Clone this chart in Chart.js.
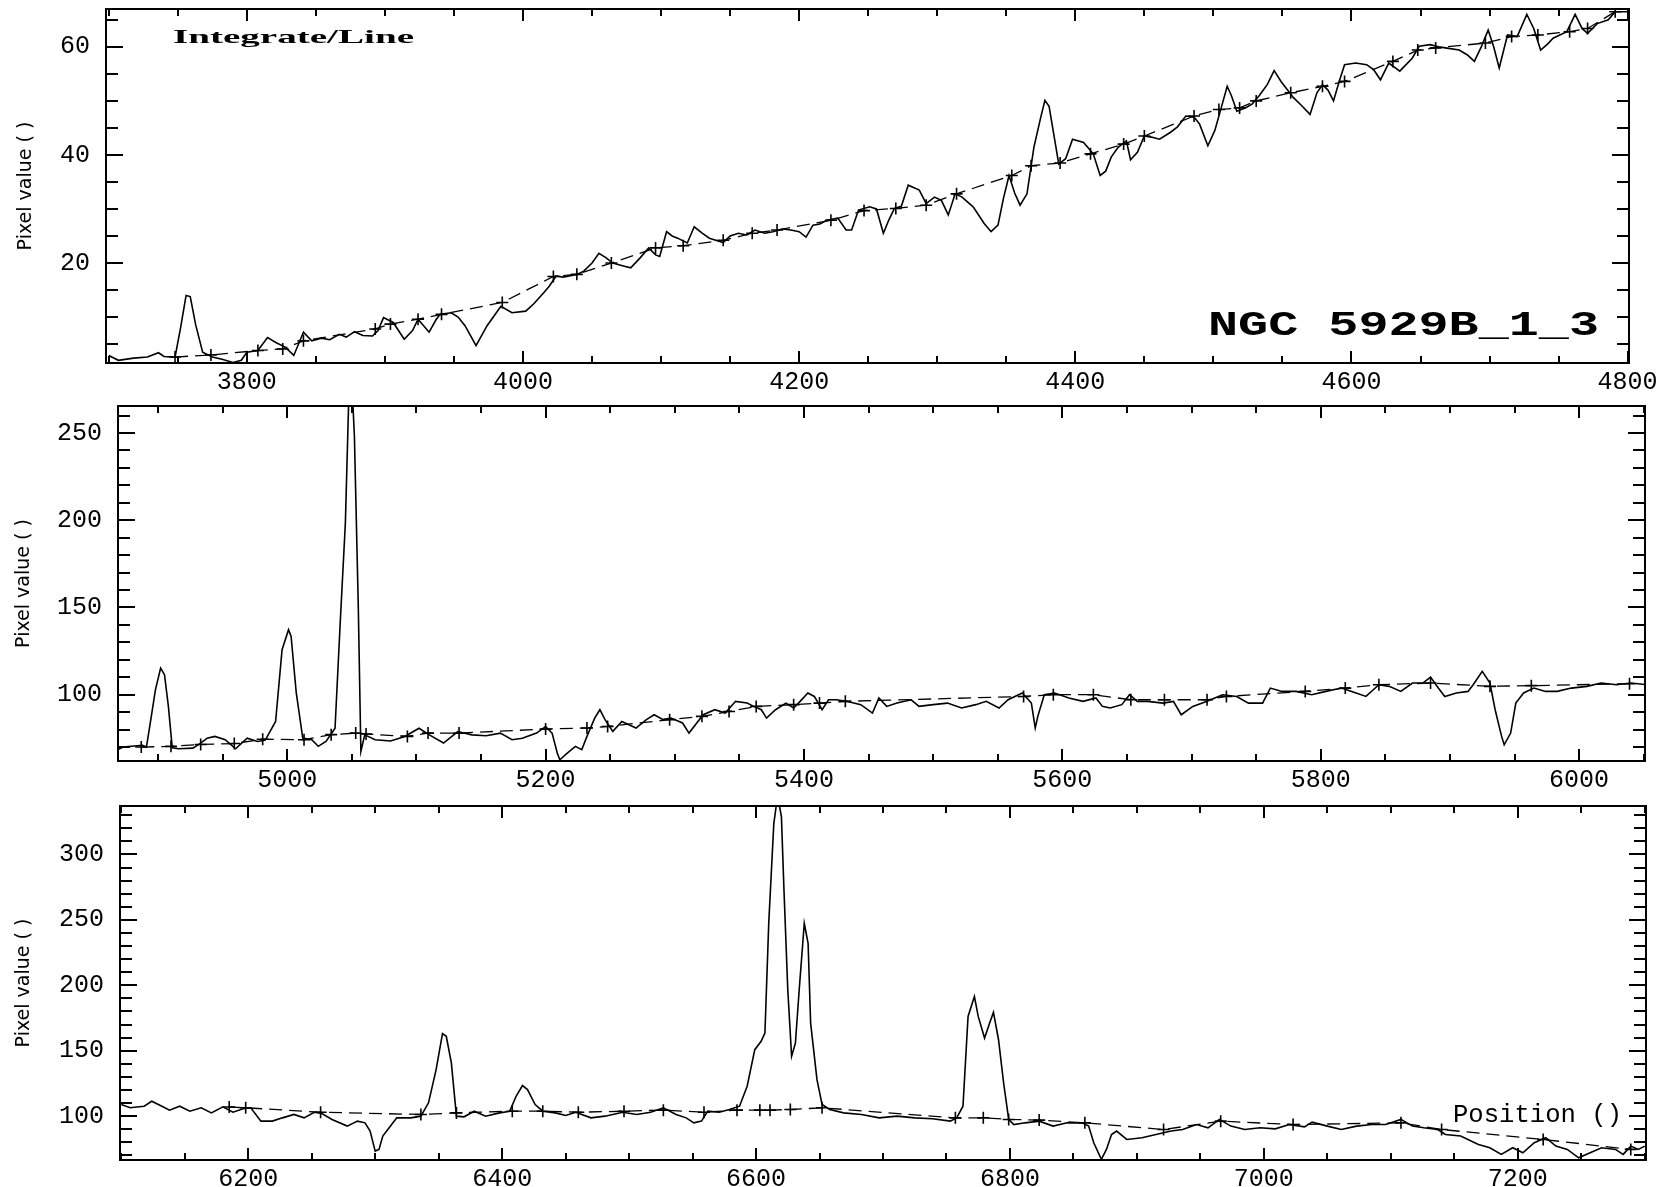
<!DOCTYPE html>
<html lang="en">
<head>
  <meta charset="UTF-8">
  <title>NGC 5929B_1_3 - Integrate/Line</title>
  <script src="https://cdn.jsdelivr.net/npm/chart.js"></script>
  <style>
    body { margin: 0; background: #fff; }
    canvas { position: absolute; left: 0; }
  </style>
</head>
<body>
  <canvas id="p1" width="1671" height="395" style="top:0px"></canvas>
  <canvas id="p2" width="1671" height="395" style="top:395px"></canvas>
  <canvas id="p3" width="1671" height="397" style="top:790px"></canvas>
  <script>
    // panel 1 : 3700 - 4800
    const wl1 = [3700,3707,3718,3728,3736,3740,3748,3752,3756,3759,3763,3768,3775,3782,3790,3796,3800,3808,3815,3821,3828,3834,3841,3847,3854,3860,3867,3872,3878,3884,3891,3895,3899,3906,3914,3920,3924,3932,3937,3940,3948,3953,3958,3966,3974,3984,3992,4002,4008,4015,4019,4024,4029,4039,4044,4050,4055,4060,4065,4072,4078,4085,4091,4096,4099,4104,4108,4112,4119,4124,4130,4135,4145,4150,4156,4162,4168,4175,4181,4188,4194,4200,4205,4210,4215,4220,4228,4234,4238,4243,4251,4256,4261,4265,4269,4274,4279,4287,4292,4298,4303,4308,4313,4318,4326,4334,4339,4344,4348,4352,4356,4360,4365,4370,4375,4378,4381,4386,4388,4393,4398,4406,4413,4418,4422,4426,4431,4437,4440,4445,4450,4455,4461,4469,4474,4480,4486,4490,4496,4501,4505,4510,4513,4517,4523,4528,4533,4539,4544,4549,4558,4564,4570,4575,4579,4583,4587,4591,4595,4603,4611,4616,4621,4627,4635,4644,4649,4657,4663,4668,4678,4684,4689,4694,4699,4703,4707,4713,4720,4727,4732,4737,4742,4746,4756,4762,4767,4771,4778,4786,4791,4800];
    const flux1 = [2.9,2.0,2.4,2.6,3.4,2.7,2.6,8.0,14.0,13.8,8.5,3.5,2.6,2.2,1.6,2.0,3.5,3.8,6.2,5.3,4.4,2.9,7.2,5.6,6.1,5.8,6.8,6.3,7.3,6.6,6.5,7.5,9.9,9.0,5.9,7.5,9.6,7.2,9.5,10.5,10.8,10.0,8.4,4.7,8.4,12.0,10.8,11.1,12.5,14.5,15.7,17.6,17.4,17.9,18.5,20.0,21.8,21.0,20.0,19.5,19.1,21.0,22.8,21.5,21.2,25.8,25.0,24.6,23.7,26.7,25.5,24.6,23.8,25.0,25.5,25.2,26.1,25.5,25.8,26.3,26.1,25.8,24.8,27.0,27.2,27.9,28.3,26.1,26.1,29.8,30.4,30.0,25.5,28.0,30.1,30.5,34.4,33.5,31.0,32.2,31.6,28.9,32.8,32.2,30.4,27.3,25.8,27.0,32.0,36.2,33.0,30.7,32.8,41.4,47.0,50.1,49.0,41.4,38.3,39.3,42.9,42.3,40.2,36.2,37.0,39.6,41.4,42.6,39.1,40.5,43.5,43.3,42.9,44.2,45.2,47.2,47.0,45.7,41.7,44.5,48.1,52.7,51.0,48.1,48.7,49.4,50.9,53.0,55.6,53.6,50.6,49.1,47.5,51.5,53.0,52.0,50.0,53.5,56.7,57.0,56.7,55.8,53.9,57.0,55.5,57.9,60.1,60.4,60.0,59.8,59.4,58.5,57.3,60.0,63.1,60.0,56.1,62.2,61.9,66.0,63.4,59.4,60.5,61.6,62.8,66.0,63.4,62.5,64.3,65.0,66.5,66.5];
    const contWl1 = [3748,3774,3808,3826,3841,3893,3904,3924,3941,3985,4022,4039,4064,4096,4116,4145,4166,4184,4223,4247,4270,4292,4314,4354,4368,4389,4411,4435,4450,4486,4504,4519,4531,4556,4579,4595,4630,4648,4661,4697,4716,4735,4758,4771,4791];
    const cont1 = [2.6,3.0,3.8,4.1,5.6,7.8,8.7,9.6,10.5,12.7,17.5,17.9,20.0,22.8,23.2,24.2,25.5,26.1,27.9,29.7,30.1,30.7,32.8,36.2,38.0,38.5,40.2,42.0,43.5,47.2,48.4,48.7,50.0,51.5,52.7,53.6,57.3,59.4,59.8,60.7,61.9,62.2,62.8,63.4,66.5];
    const xTicks1 = [3800, 4000, 4200, 4400, 4600, 4800];
    const yTicks1 = [20, 40, 60];

    // panel 2 : 4870 - 6050
    const wl2 = [4869,4873,4888,4891,4894,4898,4902,4905,4908,4911,4916,4927,4933,4938,4944,4952,4960,4969,4977,4983,4991,4996,5001,5003,5007,5012,5019,5024,5030,5037,5041,5045,5048,5050,5052,5055,5057,5060,5068,5080,5091,5102,5110,5121,5132,5143,5154,5165,5174,5182,5193,5200,5205,5209,5211,5217,5223,5228,5232,5238,5242,5246,5252,5259,5270,5278,5284,5291,5297,5306,5311,5317,5322,5331,5339,5347,5356,5361,5367,5371,5378,5386,5392,5397,5403,5408,5414,5419,5425,5433,5444,5453,5458,5464,5472,5483,5489,5500,5511,5522,5533,5541,5551,5558,5569,5576,5579,5581,5586,5594,5605,5616,5626,5631,5637,5646,5652,5658,5666,5678,5686,5692,5701,5712,5724,5735,5744,5755,5761,5770,5781,5793,5804,5816,5824,5835,5845,5853,5862,5871,5879,5885,5891,5896,5905,5914,5918,5925,5931,5935,5940,5942,5947,5951,5957,5965,5974,5983,5994,6006,6017,6029,6040,6053];
    const flux2 = [68.5,70.0,71.0,70.0,83.8,102.9,115.3,111.5,93.3,69.6,69.0,69.4,72.2,75.1,76.1,74.2,69.0,75.1,73.2,74.0,84.7,125.8,137.3,133.4,101.0,75.1,74.2,70.4,73.2,80.8,141.1,198.4,280,280,248,150.6,67.5,77.0,74.2,73.5,76.1,80.8,77.0,72.3,78.9,77.0,76.5,78.0,74.2,75.0,78.0,81.8,78.0,66.6,62.7,66.6,70.4,68.5,76.1,86.6,91.4,85.7,79.0,84.7,80.9,85.7,88.5,85.7,86.6,83.8,78.0,83.8,88.5,91.4,89.5,96.2,95.2,93.3,91.4,86.6,91.4,95.2,92.4,96.2,101.0,99.0,91.4,97.1,97.1,96.2,94.3,89.5,98.1,93.3,95.2,97.1,93.3,94.3,95.2,92.4,94.3,96.2,92.4,97.1,101.0,95.2,80.9,87.6,100.0,101.0,98.1,96.2,98.1,93.3,92.4,94.3,100.0,96.2,96.2,95.2,96.2,88.5,93.3,96.2,100.0,99.0,95.2,95.2,103.8,101.9,101.9,100.0,101.9,103.8,101.9,99.0,105.7,104.8,101.9,106.7,106.7,110.1,103.8,99.0,101.0,101.9,105.7,113.4,106.7,91.4,76.1,71.3,78.0,95.2,101.0,103.8,101.9,101.9,103.8,104.8,106.7,105.7,106.7,105.7];
    const contWl2 = [4887,4910,4933,4959,4981,5013,5034,5053,5061,5093,5109,5133,5200,5232,5248,5296,5321,5342,5363,5392,5412,5432,5570,5593,5624,5653,5679,5712,5727,5788,5819,5845,5885,5931,5963,6039];
    const cont2 = [70.0,70.4,71.5,72.0,74.5,74.2,77.1,78.0,77.5,76.1,78.0,78.0,80.3,80.9,81.8,85.7,87.6,90.4,93.3,94.3,95.2,96.2,99.0,100.0,100.0,97.1,97.1,97.1,99.0,101.9,103.8,105.7,106.7,104.8,105.2,106.3];
    const xTicks2 = [5000, 5200, 5400, 5600, 5800, 6000];
    const yTicks2 = [100, 150, 200, 250];

    // panel 3 : 6100 - 7300
    const wl3 = [6100,6107,6118,6124,6132,6138,6146,6154,6163,6171,6180,6188,6196,6202,6210,6219,6227,6236,6244,6252,6258,6266,6278,6286,6292,6296,6300,6303,6306,6311,6317,6328,6336,6342,6348,6353,6356,6360,6364,6370,6378,6387,6398,6406,6411,6416,6420,6426,6432,6442,6450,6458,6470,6481,6495,6506,6517,6527,6537,6545,6551,6557,6562,6571,6579,6587,6593,6599,6604,6607,6610,6614,6617,6620,6622,6625,6628,6631,6634,6638,6641,6643,6648,6652,6658,6669,6683,6697,6711,6725,6739,6753,6758,6763,6767,6772,6775,6780,6784,6787,6791,6795,6799,6803,6812,6823,6834,6845,6857,6862,6866,6872,6876,6880,6884,6892,6904,6915,6927,6936,6947,6956,6965,6974,6985,6997,7009,7020,7032,7038,7050,7061,7073,7085,7096,7108,7117,7126,7137,7143,7155,7169,7178,7187,7196,7204,7213,7222,7230,7239,7248,7257,7266,7277,7283,7289,7295,7300];
    const flux3 = [108.9,106.4,107.6,111.4,107.6,104.6,107.6,103.8,106.4,102.5,107.1,103.0,105.6,106.4,96.2,96.2,98.7,101.3,98.7,103.0,102.0,97.5,92.4,96.2,94.9,88.6,73.3,74.6,84.8,91.1,98.7,98.7,100.0,110.2,135.6,163.0,161.0,140.7,100.0,99.5,103.8,100.0,102.5,103.8,115.2,123.4,120.3,108.9,103.8,102.5,100.5,103.0,98.7,100.0,103.0,101.3,103.0,106.4,101.3,98.7,94.9,96.2,103.8,103.0,105.1,107.6,122.9,150.8,157.2,163.5,247.4,323.6,345,328.7,272.8,196.6,145.7,155.9,196.6,247.4,232.1,171.1,127.9,108.9,105.1,102.5,101.3,98.7,100.0,98.7,98.0,96.2,98.7,107.6,176.2,191.5,176.2,159.7,171.1,179.3,158.4,125.4,97.5,93.6,94.9,96.2,92.4,94.9,94.9,92.4,79.7,67.0,74.6,86.0,88.6,82.2,83.5,86.0,88.6,89.8,93.6,91.1,97.5,92.4,89.8,91.1,90.3,93.6,91.8,95.4,92.4,89.8,92.4,93.6,93.6,97.5,92.4,91.1,89.8,86.0,84.8,78.4,75.9,70.8,75.9,72.0,79.7,83.5,77.1,74.6,68.2,72.0,75.9,74.6,70.8,77.1,74.6,77.1];
    const contWl3 = [6185,6198,6257,6336,6364,6408,6432,6460,6496,6527,6559,6585,6603,6611,6627,6652,6757,6779,6799,6823,6859,6921,6966,7023,7108,7140,7220,7289];
    const cont3 = [107.0,106.4,103.0,101.3,102.5,103.8,103.8,103.0,103.8,104.6,103.0,104.6,104.6,104.6,105.1,106.4,98.7,98.7,97.5,97.0,94.9,89.8,96.2,93.6,94.9,89.8,82.2,74.6];
    const xTicks3 = [6200, 6400, 6600, 6800, 7000, 7200];
    const yTicks3 = [100, 150, 200, 250, 300];

    const tickFont = { family: '"Liberation Mono", monospace', size: 25 };

    // boxed frame with inward major/minor ticks on all four sides
    const frameTicks = {
      id: 'frameTicks',
      afterDraw(chart, args, o) {
        const { ctx, chartArea: a } = chart;
        const xs = chart.scales.x, ys = chart.scales.y;
        ctx.save();
        ctx.strokeStyle = '#000';
        ctx.lineWidth = 2;
        ctx.strokeRect(a.left, a.top, a.right - a.left, a.bottom - a.top);
        ctx.beginPath();
        const majX = xs.ticks.map(t => t.value);
        for (let v = Math.ceil(xs.min / o.xMinor) * o.xMinor; v <= xs.max; v += o.xMinor) {
          const len = majX.includes(v) ? 12 : 7;
          const px = Math.round(xs.getPixelForValue(v));
          ctx.moveTo(px, a.bottom); ctx.lineTo(px, a.bottom - len);
          ctx.moveTo(px, a.top); ctx.lineTo(px, a.top + len);
        }
        const majY = ys.ticks.map(t => t.value);
        for (let v = Math.ceil(ys.min / o.yMinor) * o.yMinor; v <= ys.max; v += o.yMinor) {
          const len = majY.includes(v) ? 17 : 12;
          const py = Math.round(ys.getPixelForValue(v));
          ctx.moveTo(a.left, py); ctx.lineTo(a.left + len, py);
          ctx.moveTo(a.right, py); ctx.lineTo(a.right - len, py);
        }
        ctx.stroke();
        ctx.restore();
      }
    };

    // free text inside the plot (stretched to the width seen in the plot)
    const notes = {
      id: 'notes',
      afterDraw(chart, args, o) {
        const ctx = chart.ctx;
        (o.items || []).forEach(n => {
          ctx.save();
          ctx.font = n.font;
          ctx.fillStyle = '#000';
          ctx.textBaseline = 'alphabetic';
          const w = ctx.measureText(n.text).width;
          ctx.translate(n.x, n.y);
          ctx.scale(n.width / w, 1);
          ctx.fillText(n.text, 0, 0);
          ctx.restore();
        });
      }
    };

    function pts(xs, ys) {
      return xs.map((x, i) => ({ x: x, y: ys[i] }));
    }

    function panel(id, p) {
      return new Chart(document.getElementById(id), {
        type: 'scatter',
        data: {
          datasets: [
            {
              data: pts(p.wl, p.flux),
              showLine: true,
              borderColor: '#000',
              borderWidth: 1.6,
              pointRadius: 0,
              tension: 0
            },
            {
              data: pts(p.cwl, p.cont),
              showLine: true,
              borderColor: '#000',
              borderWidth: 1.3,
              borderDash: [13, 7],
              pointStyle: 'cross',
              pointRadius: 6,
              pointBorderWidth: 1.6,
              pointBorderColor: '#000',
              tension: 0
            }
          ]
        },
        options: {
          responsive: false,
          animation: false,
          events: [],
          layout: { padding: { top: p.top, right: p.right, left: 0, bottom: 0 } },
          plugins: {
            legend: { display: false },
            tooltip: { enabled: false },
            frameTicks: { xMinor: 50, yMinor: p.yMinor },
            notes: { items: p.notes || [] }
          },
          scales: {
            x: {
              type: 'linear',
              min: p.xmin,
              max: p.xmax,
              grid: { display: false, drawTicks: false },
              border: { display: false },
              ticks: {
                color: '#000',
                font: tickFont,
                padding: 4,
                maxRotation: 0,
                autoSkip: false,
                callback: v => String(v)
              },
              afterBuildTicks: s => { s.ticks = p.xTicks.map(v => ({ value: v })); },
              afterFit: s => { s.height = p.xh; s.paddingLeft = 0; s.paddingRight = 0; }
            },
            y: {
              type: 'linear',
              min: p.ymin,
              max: p.ymax,
              grid: { display: false, drawTicks: false },
              border: { display: false },
              title: {
                display: true,
                text: 'Pixel value ( )',
                color: '#000',
                font: { family: '"DejaVu Sans", sans-serif', size: 19 },
                padding: { top: p.titlePad, bottom: 0 }
              },
              ticks: {
                color: '#000',
                font: tickFont,
                padding: 16,
                autoSkip: false,
                callback: v => String(v)
              },
              afterBuildTicks: s => { s.ticks = p.yTicks.map(v => ({ value: v })); },
              afterFit: s => { s.width = p.yw; s.paddingTop = 0; s.paddingBottom = 0; }
            }
          }
        },
        plugins: [frameTicks, notes]
      });
    }

    panel('p1', {
      wl: wl1, flux: flux1, cwl: contWl1, cont: cont1,
      xTicks: xTicks1, yTicks: yTicks1,
      xmin: 3698, xmax: 4801, ymin: 1.5, ymax: 67, yMinor: 5,
      top: 9, right: 42, yw: 106, xh: 32, titlePad: 15,
      notes: [
        { text: 'Integrate/Line', font: 'bold 19px "Liberation Serif", serif', x: 173, y: 43, width: 241 },
        { text: 'NGC 5929B_1_3', font: 'bold 35px "Liberation Mono", monospace', x: 1208, y: 335, width: 391 }
      ]
    });

    panel('p2', {
      wl: wl2, flux: flux2, cwl: contWl2, cont: cont2,
      xTicks: xTicks2, yTicks: yTicks2,
      xmin: 4869, xmax: 6051, ymin: 62, ymax: 265.5, yMinor: 10,
      top: 11, right: 26, yw: 118, xh: 29, titlePad: 13
    });

    panel('p3', {
      wl: wl3, flux: flux3, cwl: contWl3, cont: cont3,
      xTicks: xTicks3, yTicks: yTicks3,
      xmin: 6099, xmax: 7301, ymin: 66.5, ymax: 337, yMinor: 10,
      top: 16, right: 25, yw: 120, xh: 27, titlePad: 13,
      notes: [
        { text: 'Position ()', font: '25px "Liberation Mono", monospace', x: 1453, y: 332, width: 169 }
      ]
    });
  </script>
</body>
</html>
